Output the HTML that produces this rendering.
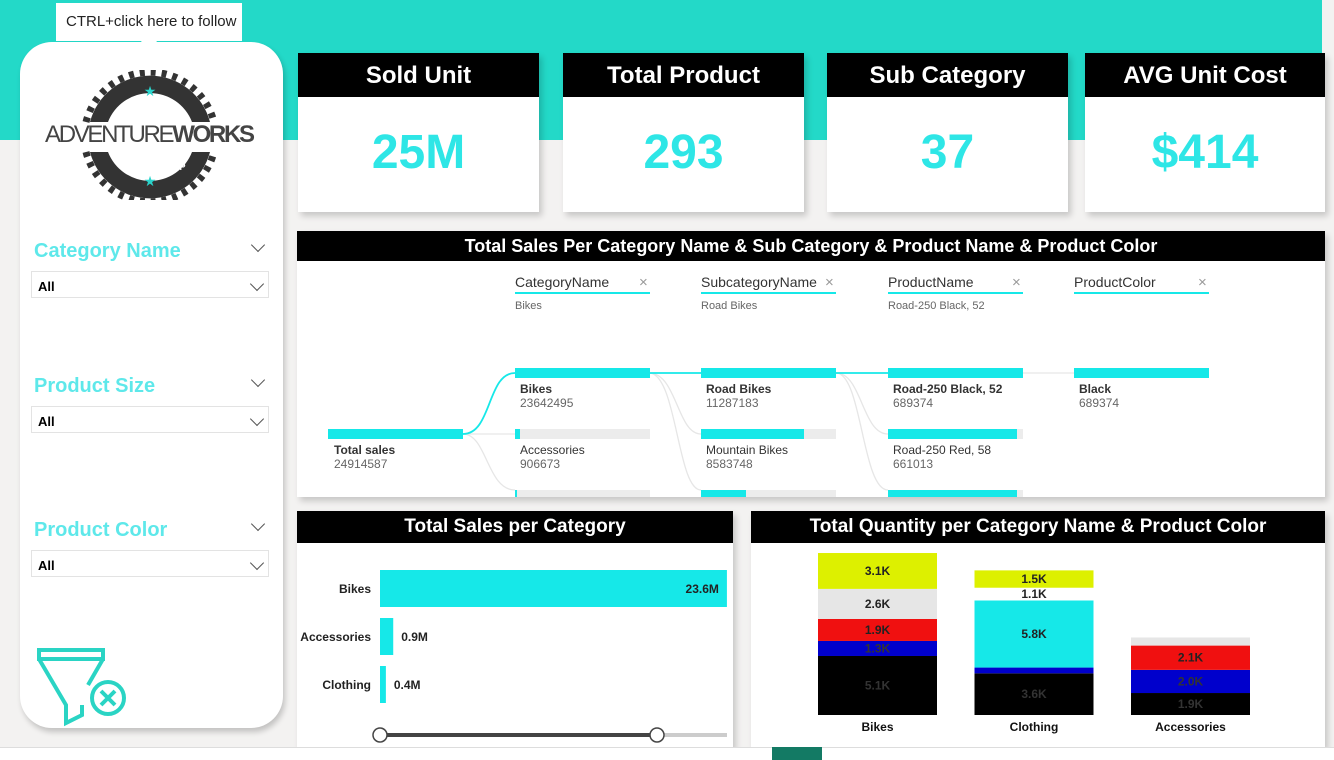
<!DOCTYPE html>
<html><head><meta charset="utf-8"><style>
*{box-sizing:border-box;margin:0;padding:0}
body{width:1334px;height:760px;overflow:hidden;background:#F3F2F1;font-family:"Liberation Sans",sans-serif;position:relative}
.abs{position:absolute}
.card{position:absolute;background:#fff;box-shadow:3px 4px 6px rgba(0,0,0,.18)}
.hdr{position:absolute;left:0;right:0;top:0;background:#000;color:#fff;font-weight:bold;text-align:center}
.kv{position:absolute;left:0;right:0;text-align:center;color:#2EE6E6;font-weight:bold;font-size:48px}
.slab{position:absolute;left:34px;color:#5EE8EA;font-weight:bold;font-size:20px}
.chev{position:absolute;width:10px;height:10px;border-right:1.5px solid #555;border-bottom:1.5px solid #555;transform:rotate(45deg)}
.dd{position:absolute;left:31px;width:238px;height:27px;border:1px solid #e3e3e3;font-weight:bold;font-size:13px;padding:7px 0 0 6px}
.dt{position:absolute;font-size:14px;color:#333}
.ds{position:absolute;font-size:12px;color:#666}
</style></head><body>
<div class="abs" style="left:0;top:0;width:1322px;height:140px;background:#23D9C8"></div>

<div class="abs" style="left:20px;top:42px;width:263px;height:686px;background:#fff;border-radius:32px;box-shadow:2px 4px 6px rgba(0,0,0,.2)">
</div>
<div class="abs" style="left:56px;top:3px;width:186px;height:38px;background:#fff;font-size:15px;padding:10px 0 0 10px;color:#222">CTRL+click here to follow</div>
<div class="abs" style="left:140px;top:40px;width:0;height:0;border-left:9px solid transparent;border-right:9px solid transparent;border-top:10px solid #fff"></div>

<svg class="abs" style="left:40px;top:70px" width="220" height="130" viewBox="0 0 220 130">
<g fill="#333">
<path d="M50,52 A62,62 0 0 1 170,52 L152,52 A45,45 0 0 0 68,52 Z"/>
<path d="M50,82 A62,62 0 0 0 170,82 L152,82 A45,45 0 0 1 68,82 Z"/>
</g>
<g stroke="#333" stroke-width="7" stroke-dasharray="5 6" fill="none"><path d="M46,52 A66,66 0 0 1 174,52"/><path d="M46,82 A66,66 0 0 0 174,82"/></g>
<text x="110" y="26" font-size="14" fill="#2AD4CC" text-anchor="middle">★</text>
<text x="110" y="116" font-size="14" fill="#2AD4CC" text-anchor="middle">★</text>
<text x="110" y="72" font-size="24" fill="#444" text-anchor="middle" font-family="Liberation Sans" textLength="210">ADVENTURE<tspan font-weight="bold">WORKS</tspan></text>
<text x="84" y="96" font-size="9" fill="#fff" font-weight="bold">BIKE</text><text x="120" y="100" font-size="9" fill="#fff" font-weight="bold">SHOP</text>
</svg>

<div class="slab" style="top:240px">Category Name</div>
<div class="chev" style="left:253px;top:240px"></div>
<div class="dd" style="top:271px">All</div>
<div class="chev" style="left:252px;top:279px"></div>
<div class="slab" style="top:375px">Product Size</div>
<div class="chev" style="left:253px;top:375px"></div>
<div class="dd" style="top:406px">All</div>
<div class="chev" style="left:252px;top:414px"></div>
<div class="slab" style="top:519px">Product Color</div>
<div class="chev" style="left:253px;top:519px"></div>
<div class="dd" style="top:550px">All</div>
<div class="chev" style="left:252px;top:558px"></div>

<svg class="abs" style="left:30px;top:645px" width="100" height="82">
<g fill="none" stroke="#2AD4C4" stroke-width="4"><rect x="9" y="5" width="64" height="9"/><path d="M9,14 L36,60 L36,78 L52,70 L52,60"/><path d="M73,14 L58,40"/><circle cx="78" cy="53" r="16"/><path d="M71,46 L85,60 M85,46 L71,60"/></g></svg>

<!-- KPI cards -->
<div class="card" style="left:298px;top:53px;width:241px;height:159px"><div class="hdr" style="height:44px;font-size:24px;padding-top:9px">Sold Unit</div><div class="kv" style="top:72px">25M</div></div>
<div class="card" style="left:563px;top:53px;width:241px;height:159px"><div class="hdr" style="height:44px;font-size:24px;padding-top:9px">Total Product</div><div class="kv" style="top:72px">293</div></div>
<div class="card" style="left:827px;top:53px;width:241px;height:159px"><div class="hdr" style="height:44px;font-size:24px;padding-top:9px">Sub Category</div><div class="kv" style="top:72px">37</div></div>
<div class="card" style="left:1085px;top:53px;width:240px;height:159px"><div class="hdr" style="height:44px;font-size:24px;padding-top:9px">AVG Unit Cost</div><div class="kv" style="top:72px">$414</div></div>

<!-- Decomposition tree -->
<div class="card" style="left:297px;top:231px;width:1028px;height:266px;overflow:hidden">
<div class="hdr" style="height:30px;font-size:18px;padding-top:5px">Total Sales Per Category Name &amp; Sub Category &amp; Product Name &amp; Product Color</div>
<svg class="abs" style="left:0;top:0" width="1028" height="266">
<g fill="none" stroke="#e6e6e6" stroke-width="1.3">
<path d="M166,203 C190,203 190,259 218,259"/><path d="M352,142 C380,142 380,203 404,203"/><path d="M352,142 C380,142 380,259 404,259"/><path d="M539,142 C565,142 565,203 591,203"/><path d="M539,142 C565,142 565,259 591,259"/><path d="M725,142 C750,142 750,142 777,142"/>
<path d="M166,203 L218,203"/></g>
<g fill="none" stroke="#16E8E8" stroke-width="1.8"><path d="M166,203 C195,203 190,142 218,142"/><path d="M352,142 L404,142"/><path d="M539,142 L591,142"/></g>
</svg>
<div id="tree"></div>
</div>

<!-- Bar chart -->
<div class="card" style="left:297px;top:511px;width:436px;height:237px">
<div class="hdr" style="height:32px;font-size:19px;padding-top:5px">Total Sales per Category</div>
<svg id="bars" class="abs" style="left:0;top:0" width="436" height="237"></svg>
</div>

<!-- Stacked -->
<div class="card" style="left:751px;top:511px;width:574px;height:236px">
<div class="hdr" style="height:32px;font-size:19px;padding-top:5px">Total Quantity per Category Name &amp; Product Color</div>
<svg id="stack" class="abs" style="left:0;top:0" width="574" height="236"></svg>
</div>

<div class="abs" style="left:0;top:747px;width:1334px;height:13px;background:#fff;border-top:1px solid #ddd"></div>
<div class="abs" style="left:772px;top:747px;width:50px;height:13px;background:#137A64"></div>

<script>
const NS='http://www.w3.org/2000/svg';
function mk(p,t,a,txt){const e=document.createElementNS(NS,t);for(const k in a)e.setAttribute(k,a[k]);if(txt!=null)e.textContent=txt;p.appendChild(e);return e;}

// Decomposition tree data
const treeCols=['CategoryName','SubcategoryName','ProductName','ProductColor'];
const treeSel=['Bikes','Road Bikes','Road-250 Black, 52',''];
const treeNames=[['Bikes','Accessories',''],['Road Bikes','Mountain Bikes',''],['Road-250 Black, 52','Road-250 Red, 58',''],['Black']];
const treeVals=[[23642495,906673,365419],[11287183,8583748,3771564],[689374,661013,661013],[689374]];
const totalSales=24914587;
const tree=document.getElementById('tree');
const colX=[218,404,591,777];
function addDiv(cls,style,txt){const d=document.createElement('div');d.className=cls;d.setAttribute('style',style);if(txt!=null)d.textContent=txt;tree.appendChild(d);return d;}
let d=addDiv('abs','left:31px;top:198px;width:135px;height:10px;background:#16E8E8');

addDiv('dt','left:37px;top:212px;font-weight:bold;font-size:12px','Total sales');
addDiv('ds','left:37px;top:226px',String(totalSales));
treeCols.forEach((c,i)=>{
  const x=colX[i];
  const h=addDiv('dt','left:'+x+'px;top:43px;width:135px;border-bottom:2px solid #16E8E8;padding-bottom:2px',c);
  
  addDiv('abs','left:'+(x+124)+'px;top:43px;color:#999;font-size:15px','×');
  addDiv('ds','left:'+x+'px;top:69px;font-size:11px',treeSel[i]);
  const vals=treeVals[i];const mx=vals[0];
  treeNames[i].forEach((n,j)=>{
    const y=[137,198,259][j];
    addDiv('abs','left:'+x+'px;top:'+y+'px;width:135px;height:10px;background:'+(j==0?'transparent':'#ececec'));
    const b=addDiv('abs','left:'+x+'px;top:'+y+'px;width:'+(135*vals[j]/mx)+'px;height:10px;background:#16E8E8');
    
    if(n){addDiv('dt','left:'+(x+5)+'px;top:'+(y+14)+'px;font-size:12px;'+(j==0?'font-weight:bold':''),n);
    addDiv('ds','left:'+(x+5)+'px;top:'+(y+28)+'px',String(vals[j]));}
  });
});

// Bar chart data
const barCats=['Bikes','Accessories','Clothing'];
const barVals=[23.6,0.9,0.4];
const bs=document.getElementById('bars');
const bx=v=>83+v*14.7, by=i=>59+i*48;
barCats.forEach((c,i)=>{
  mk(bs,'text',{x:74,y:by(i)+23,'text-anchor':'end','font-size':12,'font-weight':'bold',fill:'#222'},c);
  const r=mk(bs,'rect',{x:83,y:by(i),width:bx(barVals[i])-83,height:37,fill:'#16E8E8'});
  
  
  const inside=barVals[i]>10;
  mk(bs,'text',{x:inside?bx(barVals[i])-8:bx(barVals[i])+8,y:by(i)+23,'text-anchor':inside?'end':'start','font-size':12,'font-weight':'bold',fill:'#222'},barVals[i].toFixed(1)+'M');
});
const sl=mk(bs,'line',{x1:83,y1:224,x2:360,y2:224,stroke:'#444','stroke-width':4});
mk(bs,'line',{x1:360,y1:224,x2:430,y2:224,stroke:'#ccc','stroke-width':4});

mk(bs,'circle',{cx:83,cy:224,r:7,fill:'#fff',stroke:'#444','stroke-width':1.5});
mk(bs,'circle',{cx:360,cy:224,r:7,fill:'#fff',stroke:'#444','stroke-width':1.5});

// Stacked chart data
const stCats=['Bikes','Clothing','Accessories'];
const stColors=['#000000','#0000CC','#F01010','#E6E6E6','#16E8E8','#FFFFFF','#DDF000'];
const stBlack=[5.1,3.6,1.9];
const stBlue=[1.3,0.5,2.0];
const stRed=[1.9,0,2.1];
const stSilver=[2.6,0,0.7];
const stCyan=[0,5.8,0];
const stWhite=[0,1.1,0];
const stYellow=[3.1,1.5,0];
const series=[stBlack,stBlue,stRed,stSilver,stCyan,stWhite,stYellow];
const txtCol=['#333','#333','#222','#222','#222','#222','#222'];
const ss=document.getElementById('stack');
const base=204, k=11.57, sx=i=>67+i*156.5;
stCats.forEach((c,i)=>{
  let acc=0;
  series.forEach((s,j)=>{
    const v=s[i];if(!v)return;
    const y0=base-acc*k, h=v*k;acc+=v;
    const r=mk(ss,'rect',{x:sx(i),y:y0-h,width:119,height:h,fill:stColors[j]});
    
    
    if(h>10)mk(ss,'text',{x:sx(i)+59.5,y:y0-h/2+4,'text-anchor':'middle','font-size':12,'font-weight':'bold',fill:txtCol[j]},v.toFixed(1)+'K');
  });
  mk(ss,'text',{x:sx(i)+59.5,y:220,'text-anchor':'middle','font-size':12,'font-weight':'bold',fill:'#111'},c);
});
</script>
</body></html>
